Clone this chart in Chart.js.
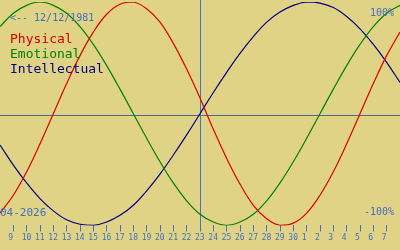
<!DOCTYPE html>
<html>
<head>
<meta charset="utf-8">
<script src="https://cdn.jsdelivr.net/npm/chart.js@4/dist/chart.umd.min.js"></script>
<style>
  html, body { margin: 0; padding: 0; background: #e1d385; }
  #wrap { width: 400px; height: 250px; position: relative; }
</style>
</head>
<body>
<div id="wrap"><canvas id="bio"></canvas></div>
<script>
// day labels under the ticks (April 9 .. May 7), tick positions 1..29
const dayLabels = ['9','10','11','12','13','14','15','16','17','18','19','20','21','22','23',
  '24','25','26','27','28','29','30','1','2','3','4','5','6','7'];
const todayLabel = '23';

// curve values at positions 0..30 (one per day, -1 .. 1)
const physical = [-0.89,-0.73,-0.52,-0.27,0,0.27,0.52,0.73,0.89,0.98,1.0,0.94,0.82,0.63,0.4,0.14,
  -0.14,-0.4,-0.63,-0.82,-0.94,-1.0,-0.98,-0.89,-0.73,-0.52,-0.27,0,0.27,0.52,0.73];
const emotional = [0.78,0.9,0.97,1,0.97,0.9,0.78,0.62,0.43,0.22,0,-0.22,-0.43,-0.62,-0.78,-0.9,
  -0.97,-1,-0.97,-0.9,-0.78,-0.62,-0.43,-0.22,0,0.22,0.43,0.62,0.78,0.9,0.97];
const intellectual = [-0.28,-0.46,-0.62,-0.76,-0.87,-0.95,-0.99,-1.0,-0.97,-0.91,-0.82,-0.69,-0.54,
  -0.37,-0.19,0,0.19,0.37,0.54,0.69,0.82,0.91,0.97,1.0,0.99,0.95,0.87,0.76,0.62,0.46,0.28];
const midLine = -0.015;

const mono = '"DejaVu Sans Mono", "Liberation Mono", monospace';
const tickBlue = '#4070c0';

const toPoints = arr => arr.map((v, i) => ({ x: i, y: v }));

// background, cross lines and the text overlay
const overlay = {
  id: 'overlay',
  beforeDraw(chart) {
    const ctx = chart.ctx;
    ctx.save();
    ctx.fillStyle = '#e1d385';
    ctx.fillRect(0, 0, chart.width, chart.height);
    ctx.restore();
  },
  beforeDatasetsDraw(chart) {
    const { ctx, chartArea, scales } = chart;
    const xs = scales.x, ys = scales.y;
    ctx.save();
    ctx.lineWidth = 1;
    const yMid = Math.round(ys.getPixelForValue(midLine)) + 0.5;
    ctx.strokeStyle = '#4a6a98';
    ctx.beginPath();
    ctx.moveTo(0, yMid);
    ctx.lineTo(chart.width, yMid);
    ctx.stroke();
    const xToday = Math.round(xs.getPixelForValue(dayLabels.indexOf(todayLabel) + 1)) + 0.5;
    ctx.strokeStyle = '#3a78c8';
    ctx.beginPath();
    ctx.moveTo(xToday, 0);
    ctx.lineTo(xToday, chartArea.bottom + 6);
    ctx.stroke();
    ctx.restore();
  },
  afterDraw(chart) {
    const ctx = chart.ctx;
    ctx.save();
    ctx.textBaseline = 'alphabetic';
    ctx.textAlign = 'left';
    ctx.font = '10px ' + mono;
    ctx.fillStyle = tickBlue;
    ctx.fillText('<-- 12/12/1981', 10, 21);
    ctx.font = '11px ' + mono;
    ctx.fillText('04-2026', 0, 216);
    ctx.textAlign = 'right';
    ctx.font = '10px ' + mono;
    ctx.fillText('100%', 394, 16);
    ctx.fillText('-100%', 394, 215);
    ctx.textAlign = 'left';
    ctx.font = '13px ' + mono;
    chart.data.datasets.forEach((ds, i) => {
      ctx.fillStyle = ds.textColor;
      ctx.fillText(ds.label, 10, 43 + i * 15);
    });
    ctx.restore();
  }
};

new Chart(document.getElementById('bio'), {
  type: 'line',
  data: {
    datasets: [
      { label: 'Physical', data: toPoints(physical), borderColor: '#dc0000', textColor: '#d00000' },
      { label: 'Emotional', data: toPoints(emotional), borderColor: '#008000', textColor: '#008000' },
      { label: 'Intellectual', data: toPoints(intellectual), borderColor: '#000080', textColor: '#000080' }
    ]
  },
  options: {
    responsive: true,
    maintainAspectRatio: false,
    animation: false,
    layout: { padding: { top: 2, bottom: 5, left: 0, right: 0 } },
    elements: {
      line: { borderWidth: 1.2, tension: 0.4, fill: false },
      point: { radius: 0 }
    },
    plugins: { legend: { display: false }, tooltip: { enabled: false } },
    scales: {
      x: {
        type: 'linear',
        min: 0,
        max: 30,
        position: 'bottom',
        border: { display: false },
        grid: { drawOnChartArea: false, drawTicks: true, tickLength: 6, color: tickBlue, lineWidth: 1 },
        afterBuildTicks: axis => { axis.ticks = axis.ticks.filter(t => t.value >= 1 && t.value <= 29); },
        ticks: {
          stepSize: 1,
          autoSkip: false,
          maxRotation: 0,
          align: 'start',
          labelOffset: -5,
          padding: 2,
          color: tickBlue,
          font: { family: mono, size: 8 },
          callback: v => dayLabels[v - 1] ?? ''
        }
      },
      y: { display: false, min: -1, max: 1 }
    }
  },
  plugins: [overlay]
});
</script>
</body>
</html>
